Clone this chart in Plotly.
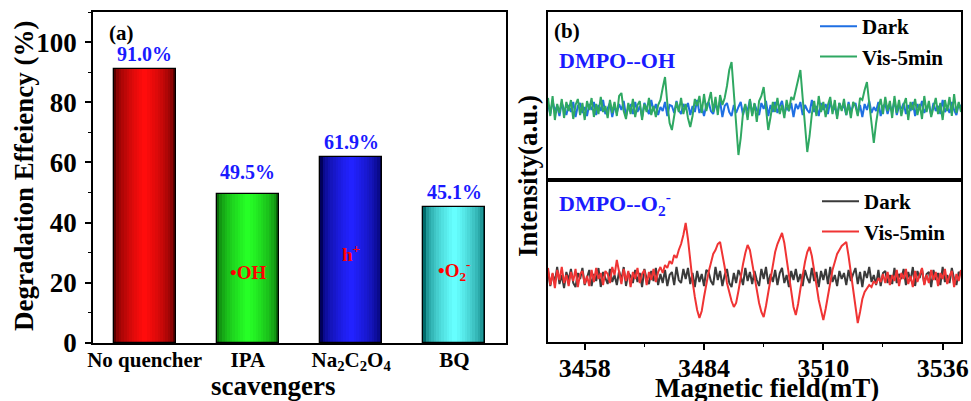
import plotly.graph_objects as go

# ---------------- data: panel (a) ----------------
CATEGORIES = ["No quencher", "IPA", "Na<sub>2</sub>C<sub>2</sub>O<sub>4</sub>", "BQ"]
EFFICIENCY = [91.0, 49.5, 61.9, 45.1]
VALUE_LABELS = ["91.0%", "49.5%", "61.9%", "45.1%"]
SPECIES = ["", "•OH", "h<sup>+</sup>", "•O<sub>2</sub><sup>-</sup>"]
SPECIES_Y = [None, 23.5, 30.0, 24.0]
Y_TICKS = [0, 20, 40, 60, 80, 100]

# ---------------- data: panel (b) ----------------
FIELD_START = 3450.0
FIELD_STEP = 0.5
FIELD_TICKS = [3458, 3484, 3510, 3536]

OH_DARK = [
    4, -6, 7, -3, 2, -8, 5, -1, -7, 3,
    -4, 6, -9, 2, 5, -5, 1, -8, 4, -2,
    6, -7, 3, -3, 8, -6, -1, 5, -9, 2,
    -5, 4, -2, 7, -8, 1, 3, -6, 6, -4,
    2, -9, 5, -1, -6, 8, -3, 4, -7, 1,
    -3, 6, -8, 3, 2, -5, 7, -2, -6, 4,
    -1, 5, -7, 2, -4, 8, -5, 1, -8, 3,
    6, -3, -6, 4, -2, 7, -9, 2, 5, -4,
    -8, 3, -5, 1, 6, -7, 2, -3, 8, -6,
    4, -2, -7, 5, -1, 7, -8, 3, -4, 6,
    -5, 2, 7, -6, 1, -3, 5, -9, 4, -1,
    6, -7, 3, -2, -5, 8, -4, 2, -8, 5,
    -2, 4, -6, 7, -3, 1, -8, 5, -1, 3,
    -7, 6, -4, 2, 5, -6, 3, -9, 4, -2,
    7, -5, 1, -3, 6, -8, 2, 4, -6, 3,
    -4, 8, -7, 2, -1, 5, -6, 3, -3, 6,
    -8, 4, -2, 7, -5, 1, 3, -7, 5, -3,
    2, -6, 8, -4, 1, -5, 6, -2, -7, 4,
    1,
]
OH_VIS = [
    10, -8, 12, -12, 4, -5, 9, -10, 6, -3,
    8, -11, 3, 9, -7, 5, -12, 7, -2, 10,
    -9, 4, -6, 11, -4, 2, -10, 8, -5, 6,
    -8, 12, 15, -3, -11, 5, -6, 9, -9, 3,
    7, -12, 4, -4, 10, -7, 2, -9, 3, 8,
    20, 31, 5, -15, -22, -8, 6, -4, 10, -6,
    4, -10, -19, -8, 9, 2, 12, -5, 14, -3,
    8, 16, -4, 11, -7, 13, 3, 10, 22, 38,
    46, 15, -25, -47, -30, -5, 4, -12, 9, -8,
    5, -14, 7, 12, 21, 2, -22, -9, 6, -4,
    10, -6, 3, -10, 8, -3, 11, 8, 18, 30,
    38, 10, -20, -44, -28, -6, 7, -8, 12, -4,
    6, -9, 3, 11, -6, 8, -11, 5, -3, 9,
    -7, 4, -10, 6, 2, -8, 10, 8, 18, 26,
    5, -18, -35, -15, 0, 9, -6, 11, -3, 7,
    -10, 12, -5, 8, -8, 3, 10, -12, 6, -2,
    9, -7, 4, -11, 12, -4, 7, -9, 2, 10,
    -6, 5, -12, 8, -3, 11, -8, 14, -5, 6,
    -4,
]
O2_DARK = [
    6, -9, 3, -5, 10, -7, 2, -11, 5, -3,
    8, -6, -10, 4, -2, 9, -8, 1, 7, -9,
    3, -4, 9, -10, 5, -1, -7, 8, -5, 2,
    -8, 6, -3, 10, -9, 4, 1, -6, 7, -5,
    4, -10, 8, -2, -7, 6, -4, 9, -8, 3,
    -6, 7, -9, 2, 5, -8, 10, -3, -6, 8,
    -2, 9, -7, 4, -10, 6, -5, 3, -9, 7,
    5, -4, -8, 10, -3, 6, -9, 2, 8, -6,
    -10, 4, -6, 7, 1, -8, 9, -4, 5, -7,
    6, -3, -9, 8, -2, 10, -7, 3, -5, 7,
    -8, 4, 9, -6, 2, -10, 6, -3, 8, -5,
    3, -9, 7, -1, -6, 9, -4, 5, -10, 6,
    -3, 8, -7, 10, -5, 2, -9, 6, -2, 4,
    -8, 7, -4, 3, 9, -7, 5, -10, 6, -1,
    10, -5, 2, -8, 7, -9, 4, 6, -6, 2,
    -7, 9, -6, 3, -2, 8, -8, 5, -4, 10,
    -9, 6, -1, 8, -7, 3, 5, -10, 7, -3,
    4, -8, 10, -5, 2, -6, 9, -2, -8, 5,
    3,
]
O2_VIS = [
    9, -8, 4, -11, 7, -3, 10, -6, 2, -9,
    5, -4, 8, -10, 3, 6, -7, 1, -9, 7,
    -5, 9, -2, 4, -8, 6, 3, -6, 10, 2,
    17, 4, -7, 8, -4, 6, -10, 5, -2, 9,
    -6, 3, 7, -8, 5, -3, 8, -5, 5, 10,
    4, 12, 9, 16, 13, 22, 19, 27, 33, 42,
    54, 38, 16, -4, -20, -33, -41, -34, -20, -7,
    5, 14, 23, 27, 33, 35, 24, 10, -6, -16,
    -24, -30, -26, -14, 1, 13, 24, 32, 27, 14,
    0, -14, -26, -35, -40, -29, -15, 1, 12, 25,
    33, 39, 44, 34, 18, 2, -15, -30, -38, -27,
    -12, 3, 15, 25, 30, 21, 8, -8, -23, -35,
    -43, -32, -18, -5, 7, 15, 23, 27, 31, 33,
    35, 21, 5, -15, -32, -46, -35, -22, -15, -11,
    -8, -10, -4, -7, -1, -5, 3, -6, 5, -8,
    2, -4, 7, -9, 4, -2, 8, -7, 1, -10,
    6, -5, 3, 9, -8, 2, -6, 7, -3, 5,
    -9, 4, -2, 8, -7, 1, 6, -10, 3, -4,
    7,
]
FIELD = [FIELD_START + FIELD_STEP * i for i in range(len(OH_DARK))]

# ---------------- styles ----------------
FONT = "Liberation Serif"
EDGE = ["#5a0000", "#0a6a0a", "#00005a", "#006a6a"]
CENTER = ["#ff0c0c", "#26ff26", "#2222ff", "#66ffff"]
LABEL_YSHIFT = [2, 9, 2, 2]
N_LAYERS = 12
BAR_WIDTH = 0.6


def mix(c1, c2, f):
    a = [int(c1[i:i + 2], 16) for i in (1, 3, 5)]
    b = [int(c2[i:i + 2], 16) for i in (1, 3, 5)]
    return "rgb(%d,%d,%d)" % tuple(round(a[j] + (b[j] - a[j]) * f) for j in range(3))


fig = go.Figure()
idx = list(range(len(CATEGORIES)))

# gradient bars (overlaid layers of decreasing width)
for k in range(N_LAYERS):
    f = (k / (N_LAYERS - 1)) ** 0.5
    w = BAR_WIDTH * (1 - k / N_LAYERS)
    fig.add_trace(go.Bar(
        x=idx, y=EFFICIENCY, width=[w] * len(idx),
        marker=dict(color=[mix(EDGE[i], CENTER[i], f) for i in idx], line=dict(width=0)),
        xaxis="x", yaxis="y", showlegend=False, hoverinfo="skip"))
fig.add_trace(go.Bar(
    x=idx, y=EFFICIENCY, width=[BAR_WIDTH] * len(idx),
    marker=dict(color="rgba(0,0,0,0)", line=dict(color="black", width=1.3)),
    xaxis="x", yaxis="y", showlegend=False, hoverinfo="skip"))

# EPR spectra
fig.add_trace(go.Scatter(x=FIELD, y=OH_DARK, mode="lines", name="Dark",
                         line=dict(color="#1f6fe3", width=2), xaxis="x2", yaxis="y2", legend="legend"))
fig.add_trace(go.Scatter(x=FIELD, y=OH_VIS, mode="lines", name="Vis-5min",
                         line=dict(color="#2fa862", width=2), xaxis="x2", yaxis="y2", legend="legend"))
fig.add_trace(go.Scatter(x=FIELD, y=O2_DARK, mode="lines", name="Dark",
                         line=dict(color="#3a3a3a", width=2), xaxis="x3", yaxis="y3", legend="legend2"))
fig.add_trace(go.Scatter(x=FIELD, y=O2_VIS, mode="lines", name="Vis-5min",
                         line=dict(color="#f03434", width=2), xaxis="x3", yaxis="y3", legend="legend2"))

W, H = 971, 401
def px(x):
    return x / W
def py(y):
    return 1 - y / H

ann = []
for i in idx:
    ann.append(dict(x=i, y=EFFICIENCY[i], xref="x", yref="y", text=VALUE_LABELS[i],
                    showarrow=False, xanchor="center", yanchor="bottom", yshift=LABEL_YSHIFT[i],
                    font=dict(size=20, color="#1a1aff", family=FONT, weight="bold")))
    if SPECIES[i]:
        ann.append(dict(x=i, y=SPECIES_Y[i], xref="x", yref="y", text=SPECIES[i],
                        showarrow=False, xanchor="center", yanchor="middle",
                        font=dict(size=19, color="#ff0000", family=FONT, weight="bold")))


def paper_text(x, y, text, size, color="black", angle=0, xanchor="center"):
    return dict(x=px(x), y=py(y), xref="paper", yref="paper", text=text, showarrow=False,
                xanchor=xanchor, yanchor="middle", textangle=angle,
                font=dict(size=size, color=color, family=FONT, weight="bold"))


ann += [
    paper_text(122, 33, "(a)", 21),
    paper_text(567, 31, "(b)", 21),
    paper_text(557, 60, "DMPO--OH", 22, color="#1a1aff", xanchor="left"),
    paper_text(557, 203, "DMPO--O<sub>2</sub><sup>-</sup>", 22, color="#1a1aff", xanchor="left"),
    paper_text(24, 176, "Degradation Effeiency (%)", 27, angle=-90),
    paper_text(528, 176, "Intensity(a.u.)", 27, angle=-90),
    paper_text(273, 386, "scavengers", 27),
    paper_text(767, 388, "Magnetic field(mT)", 27),
]

axis_common = dict(showline=True, linecolor="black", linewidth=1.5, mirror=True,
                   showgrid=False, zeroline=False, automargin=False)

fig.update_layout(
    template="none",
    width=W, height=H, margin=dict(l=0, r=0, t=0, b=0, autoexpand=False),
    paper_bgcolor="white", plot_bgcolor="white", barmode="overlay", bargap=0,
    font=dict(family=FONT, color="black", size=20, weight="bold"),
    xaxis=dict(domain=[px(93), px(506)], range=[-0.5, 3.5], tickvals=idx, ticktext=CATEGORIES,
               ticks="", ticklabelstandoff=-3,
               tickfont=dict(size=21, family=FONT, weight="bold", color="black"),
               anchor="y", **axis_common),
    yaxis=dict(domain=[py(343), py(12)], range=[0, 110], tickvals=Y_TICKS, ticks="outside",
               ticklen=6, tickwidth=1.5, tickcolor="black", ticklabelstandoff=3,
               minor=dict(tick0=0, dtick=10, ticks="outside", ticklen=3, tickwidth=1, tickcolor="black"),
               tickfont=dict(size=27, family=FONT, weight="bold", color="black"), anchor="x", **axis_common),
    xaxis2=dict(domain=[px(548), px(961)], range=[3450, 3540], showticklabels=False, ticks="",
                anchor="y2", matches="x3", **axis_common),
    yaxis2=dict(domain=[py(180), py(12)], range=[-72, 96], showticklabels=False, ticks="",
                anchor="x2", **axis_common),
    xaxis3=dict(domain=[px(548), px(961)], range=[3450, 3540], tickvals=FIELD_TICKS,
                ticks="outside", ticklen=6, tickwidth=1.5, tickcolor="black", ticklabelstandoff=-4,
                minor=dict(tick0=3458, dtick=13, ticks="outside", ticklen=3, tickwidth=1, tickcolor="black"),
                tickfont=dict(size=26, family=FONT, weight="bold", color="black"), anchor="y3", **axis_common),
    yaxis3=dict(domain=[py(342), py(180)], range=[-65, 97], showticklabels=False, ticks="",
                anchor="x3", **axis_common),
    legend=dict(x=px(815), y=py(6), xanchor="left", yanchor="top", bgcolor="rgba(0,0,0,0)",
                font=dict(size=21, family=FONT, weight="bold", color="black"), itemwidth=37, tracegroupgap=0),
    legend2=dict(x=px(817), y=py(181), xanchor="left", yanchor="top", bgcolor="rgba(0,0,0,0)",
                 font=dict(size=21, family=FONT, weight="bold", color="black"), itemwidth=37, tracegroupgap=0),
    annotations=ann,
    showlegend=True,
)

fig.write_html("out.html")
